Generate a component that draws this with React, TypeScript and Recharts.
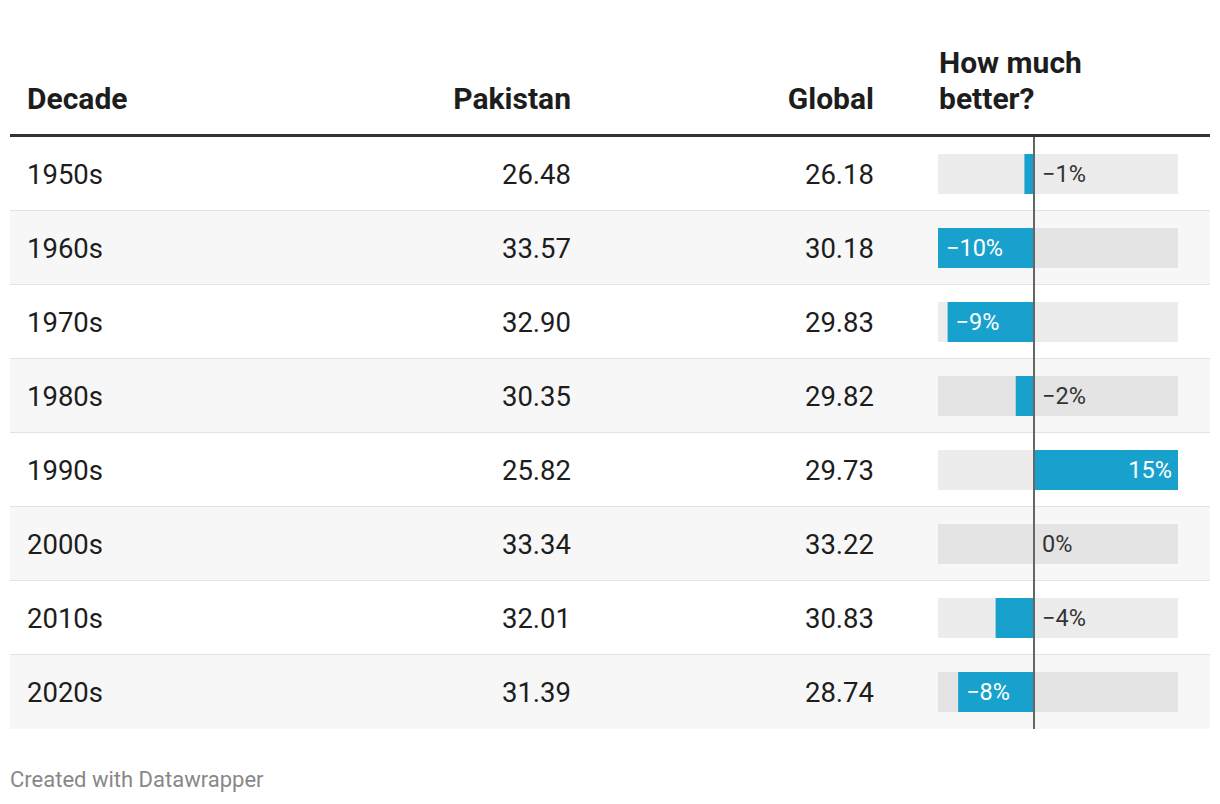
import { BarChart, Bar, XAxis, YAxis, ReferenceLine, LabelList } from "recharts";

const decades = ["1950s", "1960s", "1970s", "1980s", "1990s", "2000s", "2010s", "2020s"];
const pakistan = ["26.48", "33.57", "32.90", "30.35", "25.82", "33.34", "32.01", "31.39"];
const globalAvg = ["26.18", "30.18", "29.83", "29.82", "29.73", "33.22", "30.83", "28.74"];
const better = [-1.0, -10.0, -9.0, -1.9, 15.0, -0.1, -4.0, -7.9];
const betterLabels = ["−1%", "−10%", "−9%", "−2%", "15%", "0%", "−4%", "−8%"];

const ROW_H = 74;
const TOP = 137;
const FONT = "Roboto, 'Noto Sans', sans-serif";

const chartData = decades.map((d, i) => ({ decade: d, better: better[i], label: betterLabels[i] }));

function BarLabel(props: any) {
  const { x, y, width, height, value } = props;
  const i = betterLabels.indexOf(value);
  const v = better[i];
  const left = Math.min(x, x + width);
  const right = Math.max(x, x + width);
  const zero = v < 0 ? right : left;
  const cy = y + height / 2;
  const inside = Math.abs(v) >= 5;
  let tx = zero + 8;
  let anchor: "start" | "end" = "start";
  if (inside && v < 0) tx = left + 8;
  if (inside && v > 0) {
    tx = right - 6;
    anchor = "end";
  }
  return (
    <text x={tx} y={cy} dy="0.36em" textAnchor={anchor} fill={inside ? "#fff" : "#333"} fontSize={23.5} fontFamily={FONT}>
      {value}
    </text>
  );
}

export default function App() {
  const head: React.CSSProperties = { position: "absolute", fontWeight: 700, fontSize: 30, lineHeight: "36px", color: "#1d1d1d" };
  const cell: React.CSSProperties = { position: "absolute", top: 1, fontSize: 27.5, lineHeight: ROW_H + "px", color: "#1d1d1d" };
  return (
    <div style={{ position: "absolute", left: 0, top: 0, width: 1220, height: 804, background: "#fff", fontFamily: FONT }}>
      <div style={{ ...head, left: 27, top: 81 }}>Decade</div>
      <div style={{ ...head, left: 380, width: 191, top: 81, textAlign: "right" }}>Pakistan</div>
      <div style={{ ...head, left: 680, width: 194, top: 81, textAlign: "right" }}>Global</div>
      <div style={{ ...head, left: 939, top: 45 }}>
        How much
        <br />
        better?
      </div>
      <div style={{ position: "absolute", left: 10, top: 134, width: 1200, height: 3, background: "#333" }} />
      {decades.map((d, i) => (
        <div
          key={d}
          style={{
            position: "absolute",
            left: 10,
            top: TOP + i * ROW_H,
            width: 1200,
            height: ROW_H,
            boxSizing: "border-box",
            background: i % 2 === 1 ? "#f7f7f7" : "#fff",
            borderBottom: i < decades.length - 1 ? "1px solid #e3e3e3" : "none",
          }}
        >
          <div style={{ ...cell, left: 17 }}>{d}</div>
          <div style={{ ...cell, left: 390, width: 171, textAlign: "right" }}>{pakistan[i]}</div>
          <div style={{ ...cell, left: 690, width: 174, textAlign: "right" }}>{globalAvg[i]}</div>
        </div>
      ))}
      <div style={{ position: "absolute", left: 938, top: TOP }}>
        <BarChart width={240} height={ROW_H * decades.length} data={chartData} layout="vertical" margin={{ top: 0, right: 0, bottom: 0, left: 0 }}>
          <XAxis type="number" domain={[-10, 15]} hide />
          <YAxis type="category" dataKey="decade" hide />
          <Bar dataKey="better" fill="#18a1cd" barSize={40} background={{ fill: "rgba(0,0,0,0.075)" }} isAnimationActive={false}>
            <LabelList dataKey="label" content={BarLabel} />
          </Bar>
          <ReferenceLine x={0} stroke="#666" strokeWidth={2} />
        </BarChart>
      </div>
      <div style={{ position: "absolute", left: 10, top: 768, fontSize: 22, lineHeight: "24px", color: "#888" }}>Created with Datawrapper</div>
    </div>
  );
}
